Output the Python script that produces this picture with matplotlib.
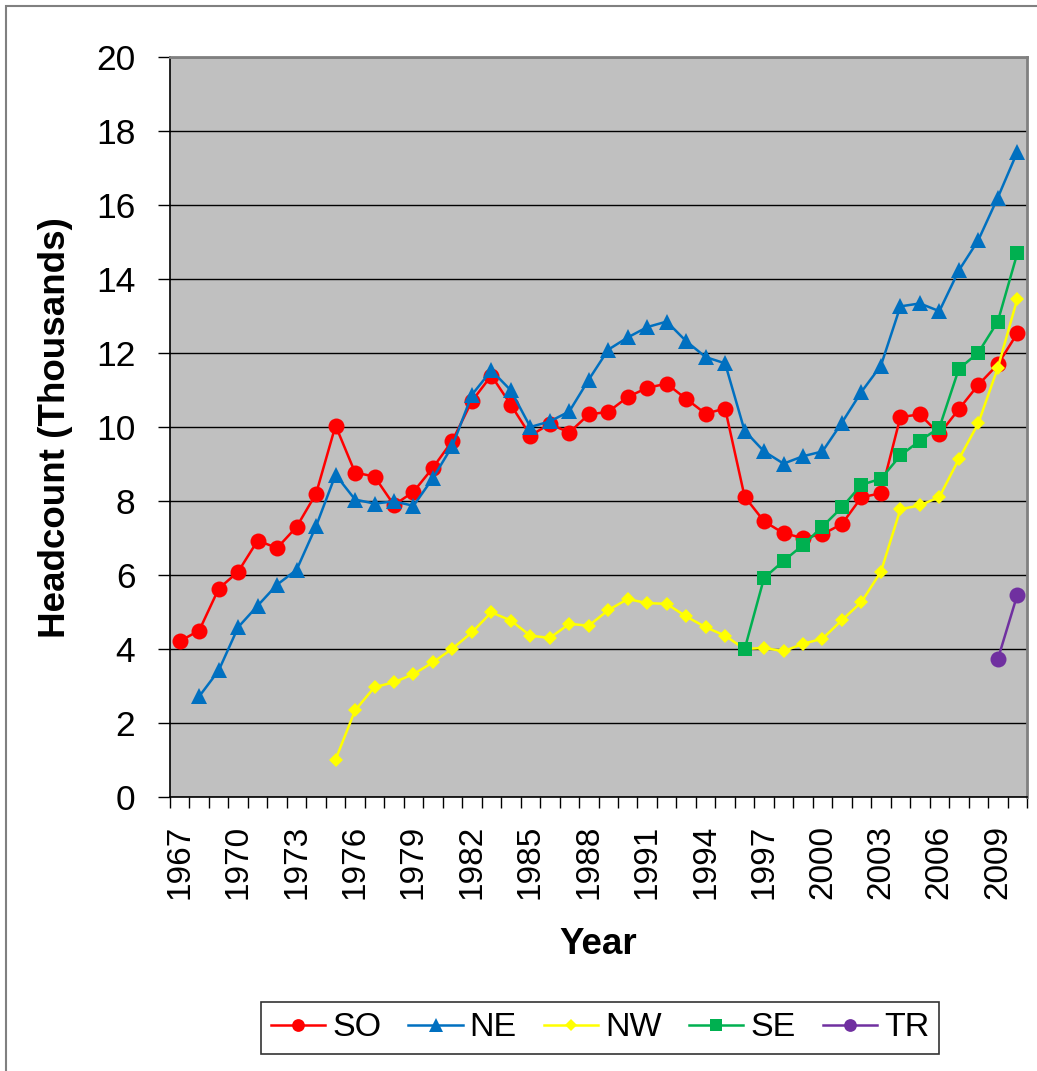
import numpy as np
import matplotlib
matplotlib.use("Agg")
import matplotlib.pyplot as plt
from matplotlib.patches import Rectangle

plt.rcParams['font.family'] = ['Liberation Sans', 'DejaVu Sans']

#%% data (thousands)
years = list(range(1967, 2011))

so_start = 1967
so = [4.21, 4.50, 5.63, 6.09, 6.93, 6.73, 7.30, 8.20, 10.04, 8.77,
      8.66, 7.89, 8.25, 8.90, 9.63, 10.70, 11.39, 10.60, 9.77, 10.08,
      9.85, 10.34, 10.41, 10.81, 11.06, 11.17, 10.76, 10.36, 10.50, 8.12,
      7.45, 7.13, 7.00, 7.10, 7.38, 8.10, 8.21, 10.27, 10.34, 9.81,
      10.48, 11.14, 11.69, 12.53]

ne_start = 1968
ne = [2.72, 3.42, 4.59, 5.17, 5.74, 6.14, 7.32, 8.71, 8.04, 7.93,
      7.99, 7.87, 8.62, 9.49, 10.87, 11.53, 10.99, 10.00, 10.15, 10.42,
      11.28, 12.09, 12.42, 12.70, 12.85, 12.32, 11.89, 11.72, 9.90, 9.34,
      9.01, 9.21, 9.34, 10.12, 10.95, 11.66, 13.26, 13.34, 13.13, 14.23,
      15.05, 16.20, 17.43]

nw_start = 1975
nw = [1.01, 2.34, 2.97, 3.10, 3.32, 3.64, 4.01, 4.45, 4.99, 4.77,
      4.36, 4.30, 4.68, 4.63, 5.05, 5.35, 5.24, 5.22, 4.88, 4.59,
      4.36, 4.00, 4.03, 3.94, 4.14, 4.28, 4.78, 5.27, 6.09, 7.78,
      7.88, 8.11, 9.13, 10.10, 11.60, 13.46]

se_start = 1996
se = [3.99, 5.92, 6.38, 6.81, 7.31, 7.83, 8.44, 8.60, 9.23, 9.63,
      9.98, 11.57, 12.01, 12.85, 14.69]

tr_start = 2009
tr = [3.72, 5.46]

#%% figure
W, H = 1037, 1071
fig = plt.figure(figsize=(W / 100, H / 100), dpi=100)

# outer chart border (runs off the right / bottom of the picture)
fig.patches.append(Rectangle((6 / W, -0.05), 1.2, 1 - 6 / H + 0.05 - 0.5 / H,
                             transform=fig.transFigure, fill=False,
                             edgecolor='#808080', linewidth=1.5))

ax = fig.add_axes([170 / W, 1 - 797 / H, (1027 - 170) / W, (797 - 57) / H])
ax.set_facecolor('#C0C0C0')

def xpos(start, vals):
    return np.arange(len(vals)) + (start - years[0])

series = [
    ('SO', so_start, so, '#FF0000', 'o', 11.5),
    ('NE', ne_start, ne, '#0070C0', '^', 12),
    ('NW', nw_start, nw, '#FFFF00', 'D', 7.2),
    ('SE', se_start, se, '#00B050', 's', 10.5),
    ('TR', tr_start, tr, '#7030A0', 'o', 11.5),
]
for name, start, vals, col, mk, ms in series:
    ax.plot(xpos(start, vals), vals, color=col, lw=1.8, marker=mk,
            markersize=ms, markeredgewidth=0, label=name, zorder=3)

ax.set_xlim(-0.5, len(years) - 0.5)
ax.set_ylim(0, 20)

# y axis
ax.set_yticks(range(0, 21, 2))
ax.tick_params(axis='y', direction='out', length=9, width=1, pad=16,
               labelsize=25.5)
ax.yaxis.grid(True, color='black', lw=1)
ax.set_axisbelow(True)

# x axis: tick marks at category edges, labels every 3 years
ax.set_xticks(np.arange(-0.5, len(years), 1))
ax.set_xticklabels([])
ax.tick_params(axis='x', which='major', direction='out', length=8, width=1)
lab_idx = list(range(0, len(years), 3))
ax.set_xticks(lab_idx, minor=True)
ax.set_xticklabels([str(years[i]) for i in lab_idx], minor=True,
                   rotation=90, fontsize=24)
ax.tick_params(axis='x', which='minor', length=0, pad=20)

for s in ['left', 'bottom']:
    ax.spines[s].set_color('black')
    ax.spines[s].set_linewidth(1.2)
for s in ['top', 'right']:
    ax.spines[s].set_color('#808080')
    ax.spines[s].set_linewidth(2)

fig.text(56 / W, 1 - 428 / H, 'Headcount (Thousands)', rotation=90,
         ha='center', va='center', fontsize=26.5, fontweight='bold')
fig.text(598 / W, 1 - 945 / H, 'Year', ha='center', va='center',
         fontsize=26.5, fontweight='bold')

leg = ax.legend(loc='center', bbox_to_anchor=(600 / W, 1 - 1028 / H),
                bbox_transform=fig.transFigure, ncol=5, fontsize=24.5,
                frameon=True, fancybox=False, markerscale=0.8,
                handlelength=1.6, handletextpad=0.2, columnspacing=0.8,
                borderpad=0.3)
leg.get_frame().set_edgecolor('black')
leg.get_frame().set_linewidth(1.2)

fig.savefig('out.png', dpi=100)
